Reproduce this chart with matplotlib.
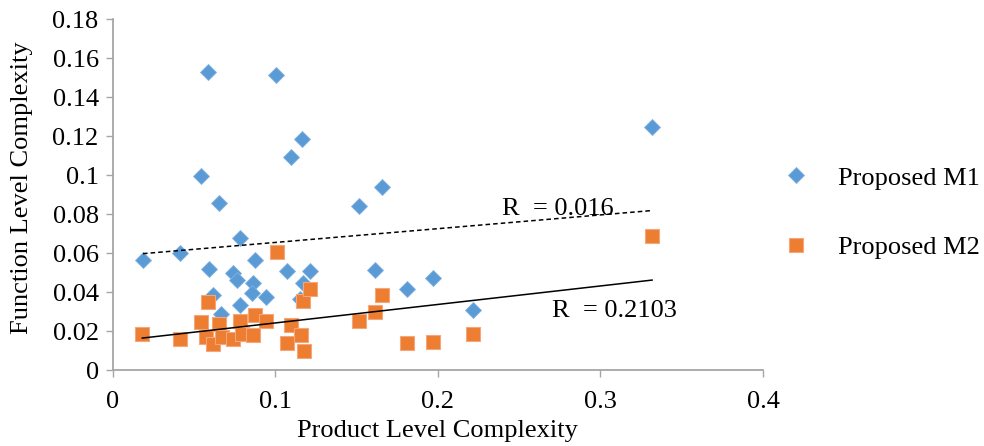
import numpy as np
import matplotlib
matplotlib.use("Agg")
import matplotlib.pyplot as plt
from matplotlib.lines import Line2D

plt.rcParams['font.family'] = ['Liberation Serif', 'DejaVu Serif']

# Proposed M1 (blue diamonds)
m1_x = [0.0187, 0.0416, 0.0544, 0.0588, 0.0595, 0.0619, 0.0654, 0.0665, 0.0738, 0.0767,
        0.0783, 0.0783, 0.0865, 0.0857, 0.0878, 0.0943, 0.1005, 0.1074, 0.1100, 0.1165,
        0.1173, 0.1152, 0.1214, 0.1513, 0.1612, 0.1659, 0.1809, 0.1970, 0.2216, 0.3318]
m1_y = [0.0566, 0.0600, 0.0998, 0.1530, 0.0519, 0.0387, 0.0858, 0.0290, 0.0498, 0.0464,
        0.0680, 0.0336, 0.0447, 0.0396, 0.0566, 0.0378, 0.1515, 0.0512, 0.1095, 0.1187,
        0.0447, 0.0365, 0.0512, 0.0843, 0.0514, 0.0938, 0.0416, 0.0474, 0.0310, 0.1250]

# Proposed M2 (orange squares)
m2_x = [0.0183, 0.0416, 0.0546, 0.0574, 0.0589, 0.0619, 0.0656, 0.0671, 0.0738, 0.0783,
        0.0794, 0.0865, 0.0878, 0.0943, 0.1009, 0.1074, 0.1095, 0.1157, 0.1169, 0.1177,
        0.1214, 0.1513, 0.1612, 0.1659, 0.1809, 0.1970, 0.2216, 0.3318]
m2_y = [0.0187, 0.0161, 0.0249, 0.0173, 0.0351, 0.0136, 0.0238, 0.0170, 0.0163, 0.0255,
        0.0187, 0.0182, 0.0283, 0.0252, 0.0607, 0.0143, 0.0232, 0.0184, 0.0355, 0.0098,
        0.0419, 0.0255, 0.0299, 0.0387, 0.0140, 0.0146, 0.0187, 0.0691]

labels = ["Proposed M1", "Proposed M2"]
r2_labels = ["R  = 0.016", "R  = 0.2103"]
x_ticks = [0, 0.1, 0.2, 0.3, 0.4]
x_ticklabels = ["0", "0.1", "0.2", "0.3", "0.4"]
y_ticks = [0, 0.02, 0.04, 0.06, 0.08, 0.1, 0.12, 0.14, 0.16, 0.18]
y_ticklabels = ["0", "0.02", "0.04", "0.06", "0.08", "0.1", "0.12", "0.14", "0.16", "0.18"]

blue = "#5B9BD5"
orange = "#ED7D31"
gray = "#A6A6A6"
FS = 19

fig = plt.figure(figsize=(9.84, 4.46), dpi=100)
ax = fig.add_axes([0.1144, 0.1693, 0.6610, 0.7874])

ax.plot(m1_x, m1_y, linestyle='none', marker='D', ms=8.6, color=blue,
        markeredgecolor="#7FB2E0", markeredgewidth=0.6, zorder=3)
ax.plot(m2_x, m2_y, linestyle='none', marker='s', ms=10.5, color=orange,
        markeredgecolor="#F4A77A", markeredgewidth=0.8, zorder=3)

# linear trend lines
for xs, ys, ls in [(m1_x, m1_y, (0, (3, 2))), (m2_x, m2_y, '-')]:
    xs = np.asarray(xs); ys = np.asarray(ys)
    k, b = np.polyfit(xs, ys, 1)
    xx = np.array([xs.min(), xs.max()])
    ax.plot(xx, k * xx + b, color='black', lw=1.1, linestyle=ls, zorder=4)

ax.text(0.2393, 0.0797, r2_labels[0], fontsize=FS, va='baseline', ha='left', zorder=5)
ax.text(0.2702, 0.0274, r2_labels[1], fontsize=FS, va='baseline', ha='left', zorder=5)

ax.set_xlim(0, 0.4)
ax.set_ylim(0, 0.18)
ax.set_xticks(x_ticks)
ax.set_xticklabels(x_ticklabels)
ax.set_yticks(y_ticks)
ax.set_yticklabels(y_ticklabels)
ax.tick_params(axis='both', direction='out', length=5, width=1, color=gray,
               labelsize=FS, labelcolor='black')
ax.tick_params(axis='y', pad=5)
ax.tick_params(axis='x', pad=10)
for s in ['top', 'right']:
    ax.spines[s].set_visible(False)
for s in ['left', 'bottom']:
    ax.spines[s].set_color(gray)
    ax.spines[s].set_linewidth(1.3)

ax.set_xlabel("Product Level Complexity", fontsize=FS, labelpad=5)
ax.set_ylabel("Function Level Complexity", fontsize=FS)
ax.yaxis.set_label_coords(-0.122, 0.52)

handles = [Line2D([], [], linestyle='none', marker='D', ms=8.6, color=blue,
                  markeredgecolor="#7FB2E0", markeredgewidth=0.6),
           Line2D([], [], linestyle='none', marker='s', ms=10.5, color=orange,
                  markeredgecolor="#F4A77A", markeredgewidth=0.8)]
fig.legend(handles, labels, loc='center left', bbox_to_anchor=(0.771, 0.523),
           frameon=False, fontsize=FS, handlelength=1.0, handletextpad=1.1,
           labelspacing=1.75)

fig.savefig("out.png", dpi=100)
